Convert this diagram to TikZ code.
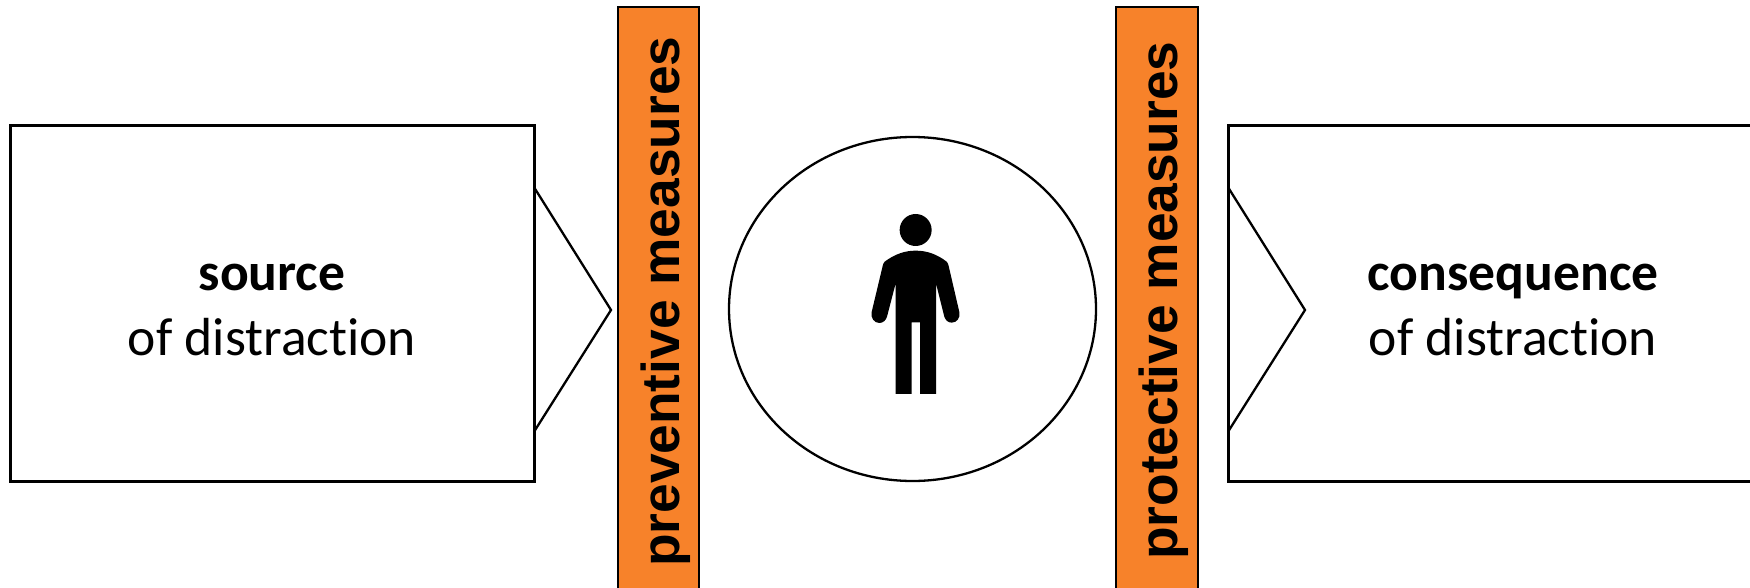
\documentclass[tikz,border=0pt]{standalone}
\usepackage{fontspec}
\setmainfont{Carlito}[Ligatures=CommonOff]
\newfontfamily\barfont{Liberation Sans}
\definecolor{barorange}{RGB}{247,130,42}
\tikzset{
  outline/.style={draw=black,line width=2.3pt,line join=miter},
  barfill/.style={fill=barorange,draw=none},
  barline/.style={draw=black,line width=2pt},
  bartext/.style={font=\barfont\bfseries\fontsize{53.3}{54}\selectfont,rotate=90,anchor=base west,inner sep=0pt,text=black},
  boxtext/.style={font=\fontsize{53.6}{65}\selectfont,align=center,text=black,inner sep=0pt},
}
\begin{document}
\begin{tikzpicture}[x=1pt,y=-1pt]
\useasboundingbox (0,0) rectangle (1750,588);
% left box with pointer
\draw[outline] (534.5,188) -- (611,310) -- (534.5,431);
\draw[outline] (10.5,125.5) rectangle (534.5,481.5);
\node[boxtext] (source) at (272,310) {\textbf{source}\\of distraction};
% bars
\fill[barfill] (618,7) rectangle (699,588);
\draw[barline] (618,588) -- (618,7) -- (699,7) -- (699,588);
\node[bartext] (prev) at (679,567) {preventive measures};
\fill[barfill] (1116,7) rectangle (1198,588);
\draw[barline] (1116,588) -- (1116,7) -- (1198,7) -- (1198,588);
\node[bartext] (prot) at (1177,560) {protective measures};
% circle
\draw[outline] (912.5,309) ellipse [x radius=183.5,y radius=172];
% person
\begin{scope}[shift={(840,190)},x=0.3333pt,y=-0.3333pt]
\fill[black] (227,120) circle [radius=48];
\fill[black] (134,215) .. controls (165,192) and (195,182) .. (227,182)
  .. controls (260,182) and (290,192) .. (320,215)
  .. controls (324,219) and (325,224) .. (326,228)
  -- (358,366) .. controls (362,384) and (350,398) .. (335,398)
  .. controls (324,398) and (316,390) .. (313,380)
  -- (288,280) -- (288,612) -- (240,612) -- (240,397) -- (215,397) -- (215,612) -- (167,612) -- (167,280)
  -- (141,380) .. controls (138,390) and (130,399) .. (118,399)
  .. controls (103,399) and (91,384) .. (95,366)
  -- (128,228) .. controls (129,224) and (130,219) .. (134,215) -- cycle;
\end{scope}
% right box with pointer
\draw[outline] (1750,125.5) -- (1228.5,125.5) -- (1228.5,481.5) -- (1750,481.5);
\draw[outline] (1228.5,188) -- (1305,310) -- (1228.5,431);
\node[boxtext] (cons) at (1513,310) {\textbf{consequence}\\of distraction};
\end{tikzpicture}
\end{document}
